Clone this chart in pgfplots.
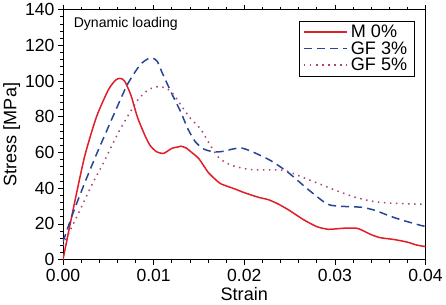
\documentclass[border=0pt]{standalone}
\usepackage{pgfplots}
\pgfplotsset{compat=1.18}
\usepackage{fontspec}
\setmainfont{Liberation Sans}
\definecolor{cred}{RGB}{225,30,40}
\definecolor{cblue}{RGB}{40,70,150}
\definecolor{cpurp}{RGB}{170,70,120}
\begin{document}
\begin{tikzpicture}
\begin{axis}[
  scale only axis,
  width=361pt, height=249pt,
  xmin=0, xmax=0.04, ymin=0, ymax=140,
  scaled x ticks=false,
  xtick={0,0.01,0.02,0.03,0.04},
  xticklabels={0.00,0.01,0.02,0.03,0.04},
  ytick={0,20,...,140},
  minor x tick num=4,
  minor y tick num=4,
  tick align=outside,
  xtick pos=both, ytick pos=left, xticklabel pos=bottom,
  major tick length=5pt, minor tick length=3pt,
  tick style={black, line width=0.6pt},
  axis line style={line width=0.8pt},
  /pgf/number format/assume math mode=true,
  ticklabel style={font=\fontsize{17.5}{19}\selectfont},
  xticklabel style={yshift=-1pt},
  xlabel={Strain}, ylabel={Stress [MPa]},
  label style={font=\fontsize{18}{20}\selectfont},
  xlabel style={yshift=1pt},
  ylabel style={yshift=-2pt},
  legend style={at={(0.9695,0.956)}, anchor=north east, draw=black, line width=0.6pt,
    font=\fontsize{18}{20}\selectfont, row sep=-1.5pt, inner xsep=4pt, inner ysep=2pt,
    nodes={inner xsep=3pt}},
  legend cell align=left,
  legend image code/.code={\draw[#1] (0pt,0pt) -- (43pt,0pt);},
]
\addplot[color=cred, draw=cred, line width=1.5pt, smooth, tension=0.4] coordinates {
(0,0) (0.0012,30) (0.0024,58) (0.0037,80) (0.005,95) (0.0058,100.5) (0.0063,101.5) (0.0068,100)
(0.0075,92) (0.0082,80) (0.009,70) (0.0096,64) (0.0103,60.5) (0.0111,59.5) (0.012,62.3) (0.0126,63)
(0.013,63.5) (0.0136,62.5) (0.0142,60) (0.015,56.5) (0.016,49) (0.0168,45) (0.0174,42.5) (0.019,39.5)
(0.02,37.5) (0.0215,35) (0.0227,33.5) (0.0238,31) (0.025,27.5) (0.0265,22.5) (0.028,18.5)
(0.0293,17) (0.031,17.6) (0.0325,17.5) (0.034,14) (0.035,12.3) (0.0365,11.3) (0.038,9.8) (0.039,8.2) (0.04,7.3)
};
\addlegendentry{M 0\%}
\addplot[color=cblue, draw=cblue, line width=1.5pt, dash pattern=on 8pt off 5pt, smooth, tension=0.4] coordinates {
(0,10) (0.0011,26) (0.0024,43) (0.0037,59) (0.0055,80) (0.0071,98) (0.0085,109) (0.0094,112.5) (0.0099,112.8)
(0.0104,111) (0.011,104) (0.012,93) (0.013,82.6) (0.0138,73) (0.0146,66) (0.0155,62) (0.0165,60.5)
(0.0175,60.5) (0.0188,62) (0.0197,62.5) (0.0206,61) (0.0215,59) (0.0229,55.5) (0.0248,49) (0.027,39.5)
(0.0292,31) (0.031,29.8) (0.033,29.3) (0.0345,27.5) (0.0359,24.7) (0.0375,22) (0.0396,19) (0.04,18.7)
};
\addlegendentry{GF 3\%}
\addplot[color=cpurp, draw=cpurp, line width=1.5pt, dash pattern=on 1.5pt off 4.5pt, smooth, tension=0.4] coordinates {
(0,8) (0.0019,28) (0.0032,42) (0.0045,54.5) (0.0062,72) (0.0082,89) (0.0094,95) (0.0104,96.8) (0.0114,96)
(0.0122,92.5) (0.013,86.6) (0.014,79.5) (0.0152,73) (0.0162,64.5) (0.0172,57) (0.0185,53) (0.0204,50.6)
(0.0225,50.2) (0.0244,50) (0.0265,46) (0.0285,42) (0.0305,38) (0.0322,35) (0.0338,33) (0.0351,32)
(0.037,31.5) (0.0396,31) (0.04,30.8)
};
\addlegendentry{GF 5\%}
\node[anchor=north west, font=\fontsize{14}{16}\selectfont] at (rel axis cs:0.02,0.985) {Dynamic loading};
\end{axis}
\end{tikzpicture}
\end{document}
